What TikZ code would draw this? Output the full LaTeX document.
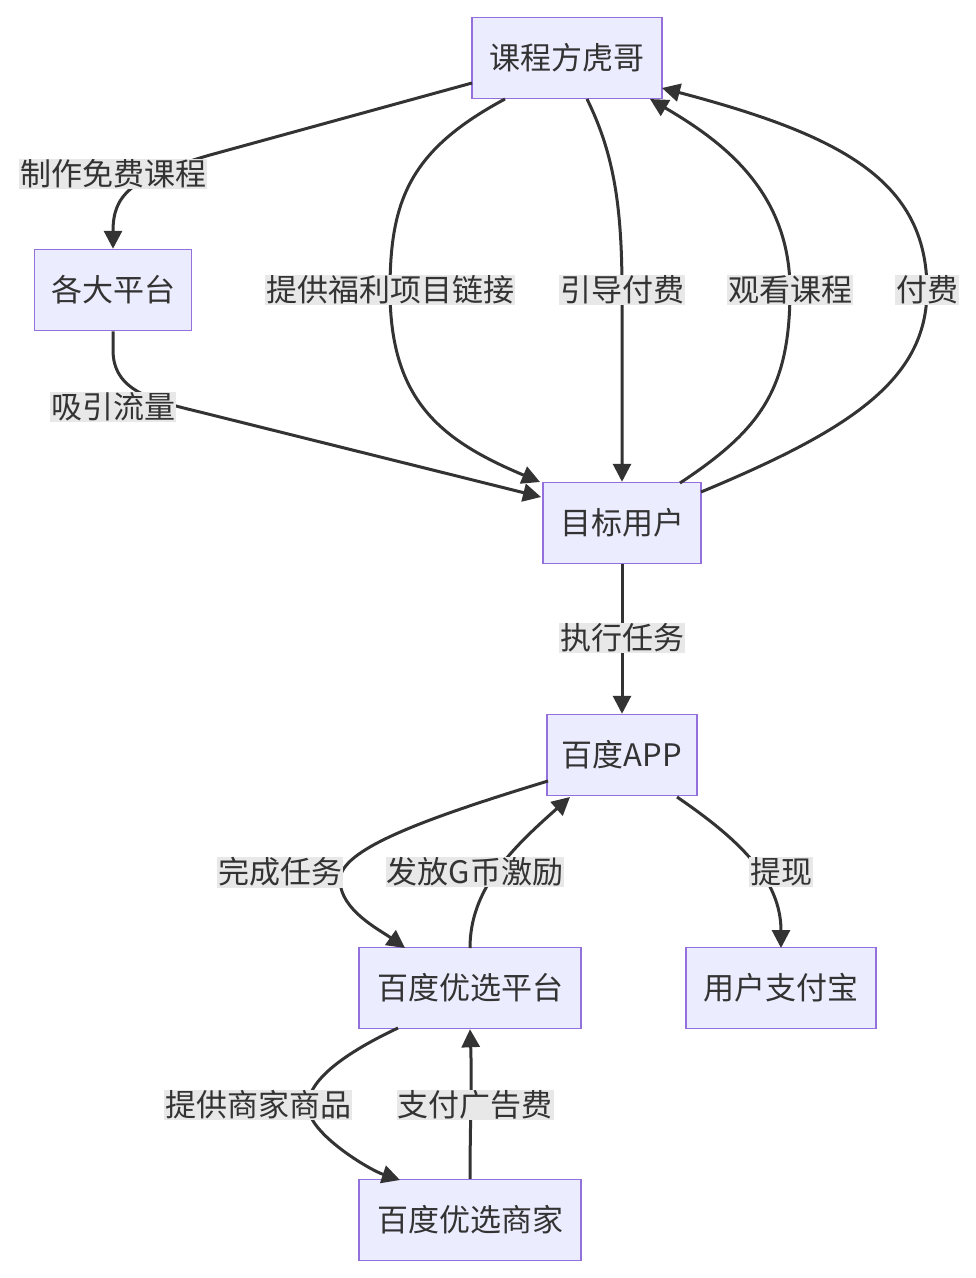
\documentclass[tikz,border=0pt]{standalone}
\usepackage{fontspec}
\setmainfont{Noto Sans CJK SC}
\usetikzlibrary{arrows.meta, positioning}
\definecolor{boxfill}{HTML}{ECECFF}
\definecolor{boxline}{HTML}{9370DB}
\definecolor{edge}{HTML}{333333}
\definecolor{lblbg}{HTML}{E8E8E8}
\tikzset{
  box/.style={rectangle, draw=boxline, fill=boxfill, line width=1.5pt,
              minimum height=81pt, inner xsep=15pt, text=edge,
              font=\fontsize{31}{37}\selectfont},
  arrow/.style={-{Triangle[length=18pt,width=18pt]}, line width=3pt, draw=edge},
  lbl/.style={fill=lblbg, inner sep=1pt, font=\fontsize{31}{37}\selectfont, text=edge},
}
\begin{document}
\begin{tikzpicture}[x=1pt, y=-1pt]
  \useasboundingbox (0,0) rectangle (976,1278);

  % --- Nodes ---
  \node[box, minimum width=190pt] (kc) at (567,58) {课程方虎哥};
  \node[box, minimum width=157pt] (pt) at (113,290) {各大平台};
  \node[box, minimum width=158pt] (user) at (622,523) {目标用户};
  \node[box, minimum width=148pt] (app) at (622,755) {百度APP};
  \node[box, minimum width=222pt] (yxpt) at (470,988) {百度优选平台};
  \node[box, minimum width=190pt] (zfb) at (781,988) {用户支付宝};
  \node[box, minimum width=222pt] (yxsj) at (470,1220) {百度优选商家};

  % --- Edges ---
  \draw[arrow] (472,83) -- (210,155) .. controls (130,178) and (113,195) .. (pt.north);
  \draw[arrow] (pt.south) -- (113,350) .. controls (113,390) and (150,400) .. (200,412) -- (541,497);
  \draw[arrow] (505,99) .. controls (410,150) and (390,200) .. (390,290)
               .. controls (390,400) and (440,440) .. (540,482);
  \draw[arrow] (587,99) .. controls (612,150) and (622,200) .. (622,290) -- (user.north);
  \draw[arrow] (680,483) .. controls (760,430) and (790,390) .. (790,290)
               .. controls (790,190) and (720,140) .. (650,99);
  \draw[arrow] (701,492) .. controls (850,430) and (927,380) .. (927,290)
               .. controls (927,180) and (840,135) .. (662,88);
  \draw[arrow] (user.south) -- (app.north);
  \draw[arrow] (548,781) .. controls (420,820) and (340,850) .. (340,880)
               .. controls (340,910) and (380,930) .. (405,948);
  \draw[arrow] (470,948) .. controls (470,890) and (510,850) .. (570,797);
  \draw[arrow] (677,797) .. controls (740,840) and (781,880) .. (781,948);
  \draw[arrow] (398,1028) .. controls (330,1060) and (300,1090) .. (310,1115)
               .. controls (320,1140) and (370,1170) .. (400,1180);
  \draw[arrow] (yxsj.north) .. controls (470,1130) and (472,1080) .. (yxpt.south);

  % --- Labels ---
  \node[lbl] (l1) at (113,174) {制作免费课程};
  \node[lbl] (l2) at (113,407) {吸引流量};
  \node[lbl] (l3) at (390,290) {提供福利项目链接};
  \node[lbl] (l4) at (622,290) {引导付费};
  \node[lbl] (l5) at (790,290) {观看课程};
  \node[lbl] (l6) at (927,290) {付费};
  \node[lbl] (l7) at (622,638) {执行任务};
  \node[lbl] (l8) at (280,872) {完成任务};
  \node[lbl] (l9) at (475,872) {发放G币激励};
  \node[lbl] (l10) at (781,872) {提现};
  \node[lbl] (l11) at (258,1105) {提供商家商品};
  \node[lbl] (l12) at (475,1105) {支付广告费};
\end{tikzpicture}
\end{document}
